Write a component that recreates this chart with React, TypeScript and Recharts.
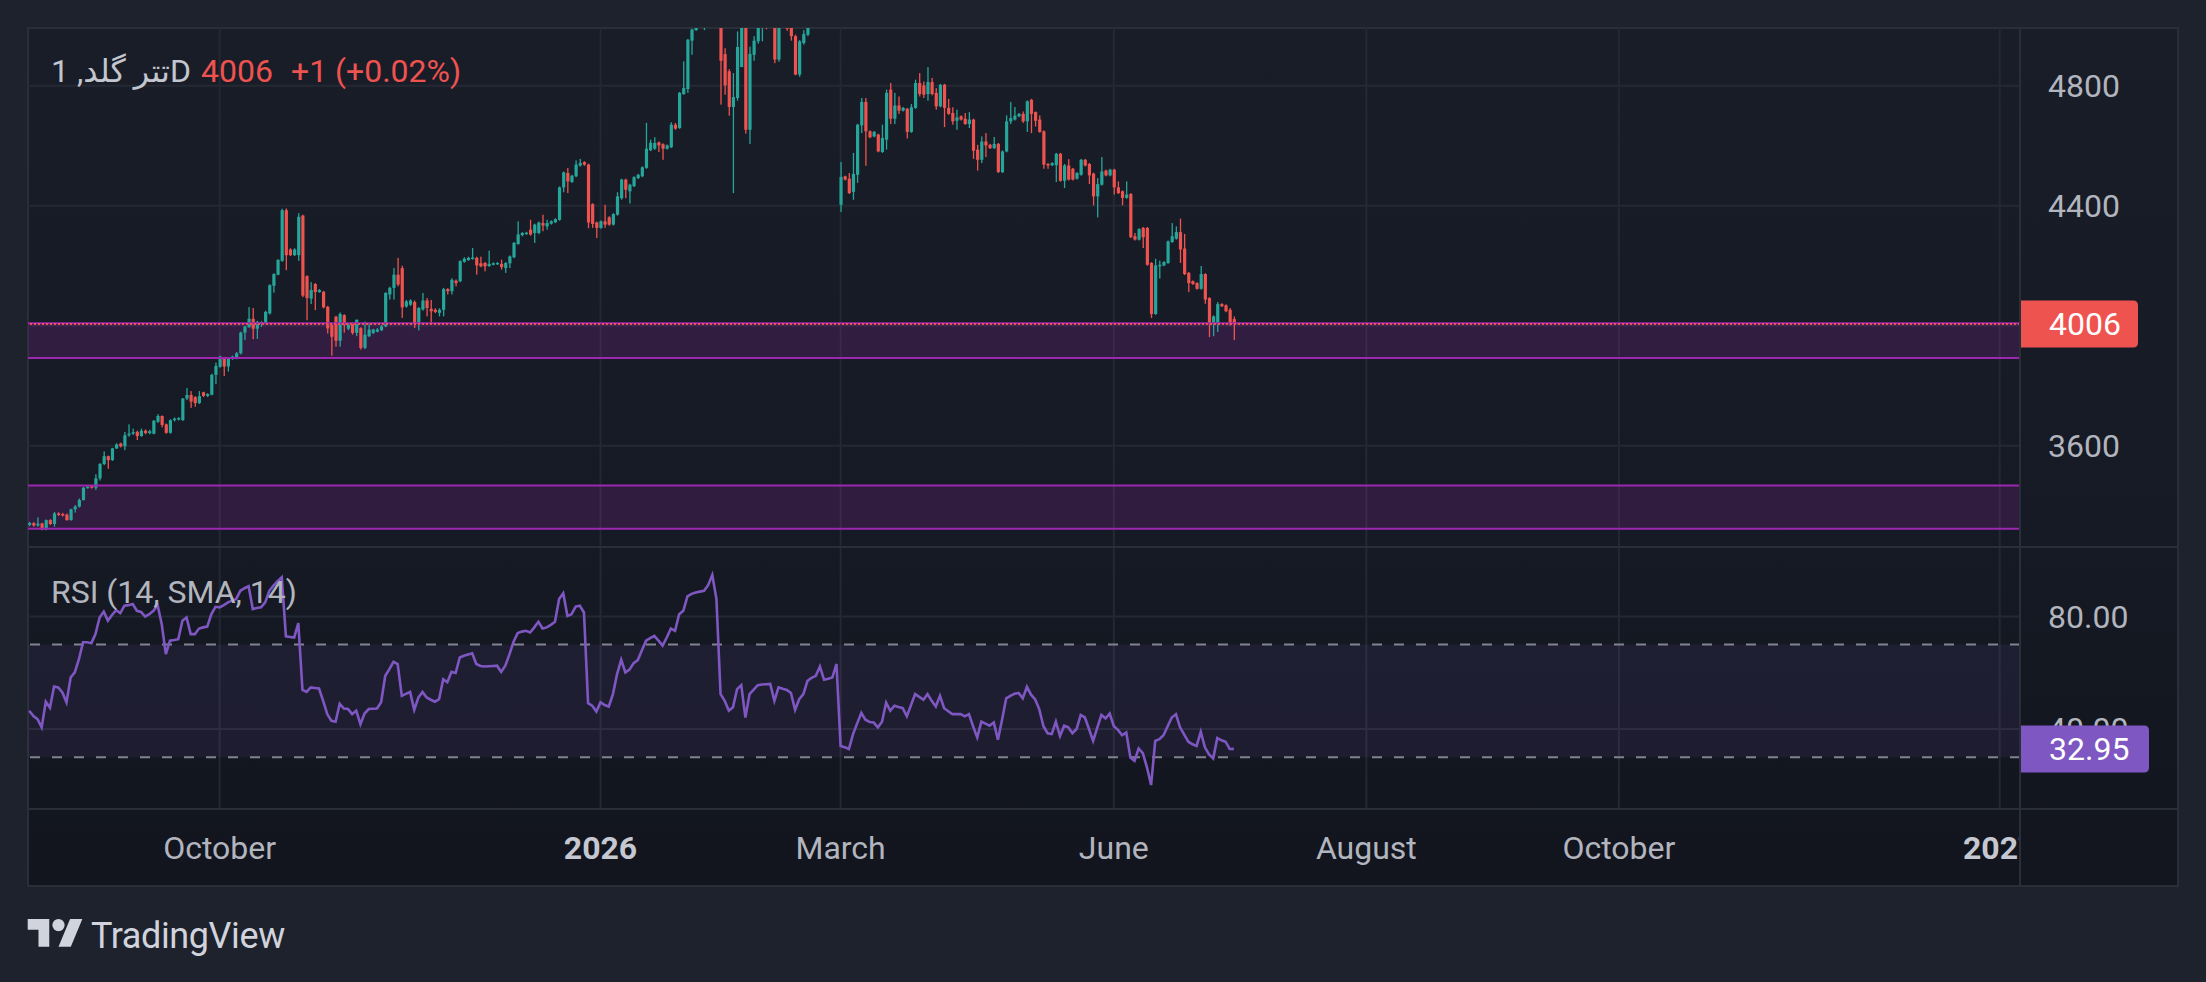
import React from 'react';
import {
  ComposedChart,
  Bar,
  Line,
  XAxis,
  YAxis,
  CartesianGrid,
  ReferenceArea,
  ReferenceLine,
} from 'recharts';

// daily candles, one entry per bar (Aug 2025 -> end of June 2026)
const opens = [
  3336, 3342, 3334, 3341, 3321, 3352, 3339, 3374, 3372, 3370,
  3352, 3388, 3397, 3419, 3460, 3465, 3460, 3491, 3539, 3565,
  3552, 3591, 3607, 3598, 3635, 3640, 3646, 3632, 3650, 3642,
  3640, 3680, 3699, 3671, 3643, 3685, 3688, 3685, 3757, 3769,
  3762, 3742, 3778, 3766, 3770, 3836, 3863, 3893, 3864, 3889,
  3891, 3908, 3977, 3995, 4023, 3990, 4007, 4010, 4041, 4133,
  4170, 4216, 4385, 4254, 4235, 4235, 4367, 4165, 4090, 4139,
  4112, 4113, 4063, 4002, 4030, 3950, 4035, 3990, 4009, 3976,
  3992, 3926, 3965, 3976, 3980, 3985, 3998, 4104, 4126, 4170,
  4192, 4064, 4070, 4079, 4009, 4054, 4084, 4056, 4053, 4043,
  4053, 4122, 4115, 4150, 4148, 4213, 4219, 4224, 4226, 4208,
  4209, 4199, 4204, 4206, 4206, 4192, 4208, 4228, 4272, 4302,
  4306, 4320, 4309, 4309, 4342, 4331, 4340, 4345, 4353, 4461,
  4509, 4479, 4498, 4534, 4545, 4537, 4405, 4344, 4326, 4348,
  4361, 4337, 4370, 4425, 4487, 4448, 4465, 4492, 4498, 4526,
  4585, 4590, 4611, 4605, 4590, 4595, 4670, 4659, 4772, 4789,
  4950, 4985, 5010, 5060, 5090, 5130, 5180, 5150, 4905, 4848,
  4729, 4759, 4862, 5030, 4653, 4903, 4948, 5020, 5080, 5040,
  5070, 4887, 5020, 5060, 5000, 4965, 4837, 4942, 4970, 5040,
  5080, 5120, 5160, 5110, 5130, 5140, 4403, 4498, 4490, 4446,
  4503, 4668, 4746, 4648, 4631, 4637, 4579, 4620, 4787, 4690,
  4734, 4717, 4723, 4646, 4726, 4809, 4801, 4772, 4812, 4776,
  4731, 4803, 4726, 4709, 4683, 4698, 4690, 4672, 4687, 4587,
  4553, 4614, 4603, 4592, 4606, 4512, 4581, 4681, 4687, 4698,
  4706, 4681, 4753, 4712, 4687, 4648, 4539, 4535, 4535, 4573,
  4483, 4534, 4523, 4490, 4503, 4553, 4539, 4507, 4431, 4470,
  4517, 4501, 4520, 4461, 4448, 4426, 4439, 4298, 4287, 4326,
  4326, 4209, 4039, 4198, 4201, 4209, 4279, 4290, 4312, 4257,
  4176, 4148, 4142, 4123, 4172, 4092, 4006, 4009, 4072, 4068,
  4053, 4022,
];

const highs = [
  3346, 3345, 3361, 3343, 3354, 3355, 3379, 3378, 3376, 3374,
  3390, 3402, 3424, 3462, 3466, 3468, 3505, 3542, 3581, 3567,
  3593, 3608, 3610, 3646, 3671, 3657, 3650, 3657, 3654, 3653,
  3686, 3705, 3701, 3674, 3688, 3694, 3695, 3759, 3792, 3782,
  3765, 3782, 3780, 3775, 3840, 3877, 3900, 3896, 3895, 3900,
  3912, 3980, 4000, 4062, 4059, 4016, 4015, 4050, 4138, 4175,
  4222, 4390, 4391, 4258, 4258, 4375, 4370, 4168, 4145, 4142,
  4122, 4116, 4066, 4005, 4033, 4044, 4038, 4008, 4012, 4020,
  3995, 4014, 4009, 3990, 3992, 4002, 4112, 4130, 4192, 4226,
  4200, 4086, 4088, 4084, 4062, 4109, 4092, 4086, 4058, 4058,
  4126, 4125, 4158, 4154, 4218, 4228, 4230, 4259, 4230, 4230,
  4212, 4250, 4211, 4212, 4220, 4212, 4234, 4279, 4348, 4312,
  4313, 4353, 4340, 4347, 4370, 4353, 4351, 4358, 4464, 4514,
  4526, 4503, 4551, 4556, 4548, 4540, 4408, 4347, 4351, 4403,
  4365, 4375, 4445, 4490, 4490, 4473, 4498, 4506, 4531, 4676,
  4620, 4628, 4614, 4608, 4604, 4678, 4676, 4779, 4881, 4956,
  4990, 5030, 5080, 5110, 5150, 5200, 5210, 5160, 4925, 4855,
  4842, 4981, 5050, 5060, 4930, 4965, 5040, 5080, 5100, 5090,
  5080, 5040, 5090, 5070, 5010, 4970, 4952, 4985, 5060, 5100,
  5140, 5190, 5170, 5150, 5160, 5210, 4546, 4500, 4509, 4576,
  4673, 4759, 4759, 4651, 4649, 4640, 4670, 4787, 4809, 4776,
  4764, 4729, 4726, 4739, 4820, 4842, 4814, 4862, 4826, 4792,
  4806, 4806, 4756, 4728, 4720, 4701, 4709, 4712, 4690, 4603,
  4631, 4642, 4606, 4629, 4609, 4584, 4701, 4746, 4729, 4709,
  4714, 4751, 4756, 4714, 4701, 4651, 4542, 4545, 4576, 4576,
  4539, 4555, 4526, 4512, 4556, 4556, 4542, 4510, 4492, 4562,
  4520, 4523, 4523, 4481, 4451, 4481, 4442, 4309, 4325, 4329,
  4329, 4212, 4223, 4217, 4215, 4284, 4342, 4331, 4357, 4306,
  4179, 4151, 4145, 4199, 4175, 4095, 4034, 4079, 4075, 4071,
  4059, 4031,
];

const lows = [
  3332, 3330, 3330, 3318, 3318, 3336, 3330, 3366, 3364, 3350,
  3350, 3377, 3394, 3417, 3457, 3457, 3452, 3484, 3535, 3523,
  3549, 3589, 3594, 3585, 3630, 3636, 3619, 3630, 3638, 3638,
  3638, 3676, 3661, 3640, 3640, 3681, 3684, 3683, 3752, 3726,
  3730, 3739, 3762, 3762, 3768, 3805, 3860, 3832, 3847, 3886,
  3888, 3904, 3952, 3993, 3955, 3956, 3996, 4005, 4037, 4110,
  4168, 4213, 4185, 4232, 4232, 4216, 4095, 4018, 4072, 4052,
  4110, 4058, 3974, 3900, 3930, 3930, 3977, 3985, 3970, 3965,
  3920, 3922, 3962, 3972, 3978, 3982, 3995, 4087, 4087, 4131,
  4026, 4060, 4066, 3992, 3984, 4050, 4031, 4009, 4042, 4031,
  4031, 4104, 4104, 4131, 4145, 4210, 4216, 4220, 4170, 4195,
  4181, 4196, 4201, 4203, 4187, 4176, 4192, 4225, 4270, 4298,
  4303, 4300, 4276, 4305, 4315, 4320, 4337, 4342, 4350, 4445,
  4442, 4476, 4495, 4530, 4533, 4325, 4326, 4292, 4323, 4326,
  4333, 4334, 4367, 4420, 4425, 4407, 4462, 4489, 4495, 4523,
  4582, 4586, 4579, 4553, 4587, 4592, 4653, 4656, 4770, 4776,
  4903, 4983, 5000, 4985, 5060, 5110, 5100, 4737, 4770, 4700,
  4442, 4750, 4862, 4640, 4606, 4883, 4940, 4948, 4988, 5010,
  4875, 4880, 5000, 4983, 4950, 4835, 4830, 4937, 4965, 5020,
  5060, 5100, 5090, 5095, 5110, 5120, 4379, 4484, 4439, 4420,
  4476, 4642, 4533, 4625, 4628, 4578, 4576, 4587, 4672, 4672,
  4706, 4714, 4624, 4643, 4723, 4764, 4759, 4750, 4768, 4720,
  4728, 4662, 4703, 4670, 4653, 4684, 4670, 4659, 4556, 4517,
  4542, 4562, 4589, 4589, 4509, 4509, 4578, 4672, 4684, 4695,
  4676, 4646, 4642, 4664, 4643, 4523, 4523, 4532, 4479, 4480,
  4459, 4484, 4484, 4487, 4500, 4531, 4472, 4401, 4361, 4467,
  4498, 4498, 4437, 4439, 4401, 4423, 4292, 4284, 4284, 4259,
  4200, 4026, 4036, 4157, 4198, 4206, 4276, 4287, 4209, 4169,
  4112, 4136, 4120, 4120, 4073, 3962, 3965, 3979, 4062, 4045,
  4000, 3952,
];

const closes = [
  3342, 3334, 3340, 3321, 3352, 3339, 3374, 3370, 3368, 3352,
  3388, 3397, 3419, 3460, 3463, 3460, 3491, 3539, 3565, 3552,
  3591, 3604, 3598, 3635, 3640, 3645, 3632, 3650, 3642, 3648,
  3683, 3699, 3669, 3643, 3685, 3690, 3692, 3757, 3769, 3747,
  3742, 3765, 3766, 3772, 3836, 3866, 3897, 3864, 3891, 3897,
  3908, 3977, 3997, 4023, 3990, 4013, 4012, 4046, 4135, 4172,
  4219, 4385, 4235, 4235, 4254, 4363, 4100, 4092, 4119, 4112,
  4119, 4061, 3991, 3963, 3950, 4039, 4002, 4003, 3976, 4020,
  3926, 3970, 3987, 3987, 3987, 3998, 4109, 4126, 4170, 4137,
  4061, 4081, 4084, 4006, 4059, 4084, 4059, 4048, 4046, 4053,
  4122, 4115, 4153, 4142, 4215, 4223, 4226, 4227, 4201, 4198,
  4198, 4206, 4208, 4209, 4195, 4209, 4231, 4276, 4304, 4309,
  4310, 4304, 4337, 4344, 4334, 4342, 4348, 4355, 4461, 4511,
  4481, 4500, 4537, 4542, 4537, 4344, 4339, 4326, 4348, 4337,
  4337, 4372, 4431, 4487, 4453, 4470, 4495, 4503, 4528, 4590,
  4610, 4609, 4601, 4590, 4601, 4670, 4657, 4776, 4792, 4953,
  4987, 5010, 5060, 5090, 5130, 5180, 5150, 4883, 4801, 4729,
  4762, 4929, 5010, 4653, 4906, 4950, 5020, 5060, 5040, 5070,
  4887, 5020, 5060, 4990, 4965, 4837, 4948, 4972, 5040, 5080,
  5120, 5160, 5110, 5130, 5140, 5190, 4496, 4487, 4442, 4506,
  4670, 4746, 4648, 4628, 4646, 4581, 4626, 4776, 4690, 4734,
  4717, 4726, 4646, 4728, 4809, 4772, 4770, 4812, 4772, 4731,
  4803, 4726, 4706, 4681, 4694, 4687, 4672, 4687, 4583, 4553,
  4614, 4601, 4592, 4606, 4512, 4581, 4681, 4692, 4700, 4706,
  4681, 4748, 4706, 4683, 4646, 4537, 4535, 4542, 4573, 4483,
  4534, 4487, 4487, 4509, 4553, 4534, 4501, 4431, 4472, 4514,
  4501, 4520, 4461, 4442, 4426, 4437, 4295, 4287, 4322, 4295,
  4203, 4039, 4201, 4203, 4212, 4281, 4298, 4312, 4254, 4172,
  4142, 4139, 4123, 4172, 4087, 4006, 4031, 4072, 4065, 4048,
  4005, 4006,
];

const rsiValues = [
  46.5, 44.6, 43.5, 40.6, 49.7, 47.6, 55.1, 54.8, 53, 49.5,
  58.3, 60.1, 64.8, 70.8, 70.8, 70.5, 73.7, 79.6, 81.7, 78.5,
  80.5, 82.2, 81.2, 83.8, 84, 84.4, 82, 81.6, 79.9, 80.8,
  82, 84, 77.3, 66.6, 71.4, 71.6, 71.9, 78.5, 79.6, 73.7,
  73.7, 75.7, 76.1, 76.4, 80.8, 83.4, 83.2, 84, 85, 85.6,
  86.2, 89.1, 90, 90.7, 82.6, 83, 83.2, 85, 89.1, 90.9,
  92.5, 93.9, 72.9, 72.7, 72.5, 77.6, 53.9, 53.2, 54.8, 54.6,
  54.4, 50, 45.3, 42.9, 42.6, 49, 47.3, 47.1, 45.3, 46.5,
  41.7, 45.5, 47.1, 47.2, 47.3, 49.5, 58.9, 61.3, 63.9, 63.1,
  51.8, 52.5, 53.2, 46.8, 51.2, 53.2, 51.2, 50.4, 49.7, 50.6,
  57.7, 56.6, 60.3, 59.9, 65.4, 66, 66.5, 66.9, 63.1, 62.4,
  62.2, 62.3, 62.4, 62.5, 60.3, 62.5, 66.5, 71, 74.1, 74.6,
  74.9, 74.3, 76.1, 78.1, 75.7, 76.1, 77, 78.1, 86.2, 88.2,
  80.2, 80.8, 83.5, 83.8, 81.4, 49.2, 48.3, 46.2, 49.5, 48.5,
  48, 52.4, 59.5, 64.6, 60.1, 61.1, 63.4, 64.5, 68, 71.4,
  72.3, 73.1, 71.4, 69.6, 72.5, 75.7, 74.9, 80.8, 82, 87.1,
  88, 88.5, 88.8, 89.1, 91.1, 94.7, 86.2, 52.4, 50, 46.5,
  47.7, 54.2, 55.6, 44.1, 52.4, 54, 55.6, 55.8, 55.9, 56,
  50, 54.8, 54.3, 53.9, 52.8, 46.8, 50.6, 52.4, 57.1, 58.2,
  58.9, 62.2, 57.5, 57.9, 58.3, 63.1, 34, 33.5, 32.9, 38.2,
  42, 45.7, 43.3, 42.5, 42.3, 40.6, 42.6, 49.4, 46.5, 48.3,
  47.8, 47.4, 44.5, 48.5, 52.4, 51.4, 50.4, 52.4, 50, 48,
  51.8, 47.4, 46.3, 45.3, 45.3, 45.3, 44.5, 45.3, 41, 37,
  42.6, 41.9, 41.2, 42.3, 36.2, 43.3, 50.9, 51.8, 52.5, 52.8,
  50.9, 55, 52.2, 50.5, 47, 41, 38.5, 38.2, 42.6, 37.5,
  41.2, 40.6, 38.5, 40, 45, 44.1, 40, 35.8, 40.5, 45,
  43.8, 45.5, 41, 39.7, 37.8, 38.8, 29.9, 28.7, 33.1, 31.4,
  26.4, 20.1, 35.8, 36.4, 37.8, 41, 44.1, 45.3, 40.6, 38,
  35.5, 34.6, 34, 39, 33.5, 31, 29.6, 36.8, 36, 35.5,
  32.9, 32.95,
];

// bar index of each time-axis label (future bars continue one per day)
const tickBars = [46, 138, 196, 262, 323, 384, 476];
const tickLabels = ['October', '2026', 'March', 'June', 'August', 'October', '2027'];

const priceTicks = [3600, 4400, 4800];
const priceGrid = [3600, 4000, 4400, 4800];
const rsiTicks = [40, 80];
const zones = [
  [3892, 4008],
  [3323, 3467],
];
const lastPrice = 4006;
const lastRsi = 32.95;

const X_DOMAIN: [number, number] = [-0.3, 480.9];
const PRICE_DOMAIN: [number, number] = [3262.3, 4992.3];
const RSI_DOMAIN: [number, number] = [11.6, 104.65];

const UP = '#26a69a';
const DOWN = '#ef5350';
const GRID = '#242833';
const BORDER = '#2a2e39';
const LABEL = '#b2b5be';
const ZONE = '#9c27b0';
const RSI_COLOR = '#7e57c2';
const FONT = "Roboto, 'DejaVu Sans', sans-serif";

const candles = opens.map((o, i) => ({
  i,
  o,
  h: highs[i],
  l: lows[i],
  c: closes[i],
  range: [lows[i], highs[i]],
}));

const rsiRows = rsiValues.map((v, i) => ({ i, rsi: v }));

const Candle = (props: any) => {
  const { x, y, width, height, payload } = props;
  if (!payload || !Number.isFinite(y) || !Number.isFinite(height)) return null;
  const { o, h, l, c } = payload;
  const color = c >= o ? UP : DOWN;
  const top = Math.min(y, y + height);
  const span = Math.abs(height);
  const cx = x + width / 2;
  const toY = (p: number) => (h === l ? top : top + ((h - p) / (h - l)) * span);
  const bodyTop = toY(Math.max(o, c));
  const bodyBottom = toY(Math.min(o, c));
  return (
    <g>
      <rect x={cx - 0.65} y={top} width={1.3} height={span} fill={color} />
      <rect
        x={cx - 1.6}
        y={bodyTop}
        width={3.2}
        height={Math.max(1.4, bodyBottom - bodyTop)}
        fill={color}
      />
    </g>
  );
};

// last-value tag on the price scale: left edge at x, centred on y
const Tag = ({ x, y, text, bg, w }: { x: number; y: number; text: string; bg: string; w: number }) => {
  const h = 47;
  const r = 5;
  const t = y - h / 2;
  const d = `M${x},${t} H${x + w - r} Q${x + w},${t} ${x + w},${t + r} V${t + h - r} Q${x + w},${t + h} ${x + w - r},${t + h} H${x} Z`;
  return (
    <g>
      <path d={d} fill={bg} />
      <text x={x + 29} y={y} dy="0.355em" fill="#ffffff" fontSize={32} fontFamily={FONT}>
        {text}
      </text>
    </g>
  );
};

const priceTagLabel = (props: any) => {
  const vb = props.viewBox;
  if (!vb) return null;
  return <Tag x={vb.x + vb.width} y={vb.y} text={String(lastPrice)} bg={DOWN} w={118} />;
};

// RSI scale ticks; the last value is drawn as a tag so that it sits above the 40.00 label
const RsiTick = (props: any) => {
  const { x, y, payload } = props;
  if (payload.value === lastRsi) {
    return <Tag x={x - 28} y={y} text={lastRsi.toFixed(2)} bg={RSI_COLOR} w={129} />;
  }
  return (
    <text x={x} y={y} dy="0.355em" fill={LABEL} fontSize={32} fontFamily={FONT}>
      {Number(payload.value).toFixed(2)}
    </text>
  );
};

const TimeTick = (props: any) => {
  const { x, y, payload } = props;
  const label = tickLabels[tickBars.indexOf(payload.value)];
  const isYear = /^\d+$/.test(label || '');
  return (
    <text
      x={x}
      y={y + 50.4}
      textAnchor="middle"
      fill={isYear ? '#c5c8d0' : LABEL}
      fontSize={32}
      fontWeight={isYear ? 700 : 400}
      fontFamily={FONT}
    >
      {label}
    </text>
  );
};

const noMargin = { top: 0, right: 0, bottom: 0, left: 0 };

const PricePane = () => (
  <ComposedChart width={2150} height={519} data={candles} margin={noMargin}>
    <CartesianGrid stroke={GRID} strokeWidth={2} verticalValues={tickBars} horizontalValues={priceGrid} />
    <XAxis dataKey="i" type="number" domain={X_DOMAIN} allowDataOverflow ticks={tickBars} hide />
    <YAxis
      orientation="right"
      width={158}
      domain={PRICE_DOMAIN}
      allowDataOverflow
      ticks={priceTicks}
      interval={0}
      axisLine={false}
      tickLine={false}
      tickSize={0}
      tickMargin={28}
      tick={{ fill: LABEL, fontSize: 32, fontFamily: FONT }}
    />
    {zones.map(([lo, hi]) => (
      <ReferenceArea key={`a${lo}`} y1={lo} y2={hi} fill={ZONE} fillOpacity={0.2} stroke="none" />
    ))}
    {zones.map(([lo]) => (
      <ReferenceLine key={`b${lo}`} y={lo} stroke={ZONE} strokeWidth={2} />
    ))}
    {zones.map(([, hi]) => (
      <ReferenceLine key={`t${hi}`} y={hi} stroke={ZONE} strokeWidth={2} />
    ))}
    <Bar dataKey="range" barSize={3} shape={<Candle />} isAnimationActive={false} />
    <ReferenceLine
      y={lastPrice}
      stroke={DOWN}
      strokeWidth={2}
      strokeDasharray="2 2"
      label={priceTagLabel}
    />
  </ComposedChart>
);

const RsiPane = () => (
  <ComposedChart width={2150} height={339} data={rsiRows} margin={noMargin}>
    <CartesianGrid stroke={GRID} strokeWidth={2} verticalValues={tickBars} horizontalValues={rsiTicks} />
    <XAxis
      dataKey="i"
      type="number"
      domain={X_DOMAIN}
      allowDataOverflow
      ticks={tickBars}
      interval={0}
      height={77}
      axisLine={false}
      tickLine={false}
      tickSize={0}
      tickMargin={0}
      tick={<TimeTick />}
    />
    <YAxis
      orientation="right"
      width={158}
      domain={RSI_DOMAIN}
      allowDataOverflow
      ticks={[...rsiTicks, lastRsi]}
      interval={0}
      axisLine={false}
      tickLine={false}
      tickSize={0}
      tickMargin={28}
      tick={<RsiTick />}
    />
    <ReferenceArea y1={30} y2={70} fill={RSI_COLOR} fillOpacity={0.1} stroke="none" />
    <ReferenceLine y={70} stroke="#80838d" strokeWidth={2} strokeDasharray="10 12" />
    <ReferenceLine y={30} stroke="#80838d" strokeWidth={2} strokeDasharray="10 12" />
    <Line
      type="linear"
      dataKey="rsi"
      stroke={RSI_COLOR}
      strokeWidth={2.6}
      dot={false}
      isAnimationActive={false}
    />
  </ComposedChart>
);

const abs = (left: number, top: number, width: number, height: number, extra = {}) => ({
  position: 'absolute' as const,
  left,
  top,
  width,
  height,
  ...extra,
});

export default function App() {
  return (
    <div style={{ ...abs(0, 0, 2206, 982), background: '#1e222d', fontFamily: FONT, overflow: 'hidden' }}>
      <style>{'body{margin:0;background:#1e222d}'}</style>
      <div
        style={abs(27, 27, 2152, 860, {
          boxSizing: 'border-box',
          border: `2px solid ${BORDER}`,
          background: 'linear-gradient(180deg, #191d28 0%, #161a24 55%, #12151e 100%)',
        })}
      />
      <div style={abs(28, 28, 2150, 519)}>
        <PricePane />
      </div>
      <div style={abs(28, 547, 2150, 339)}>
        <RsiPane />
      </div>
      {/* price scale corner of the time axis */}
      <div style={abs(2021, 810, 155, 74, { background: '#13161f' })} />
      {/* pane separators */}
      <div style={abs(28, 546, 2150, 2, { background: BORDER })} />
      <div style={abs(28, 808, 2150, 2, { background: BORDER })} />
      <div style={abs(2019, 28, 2, 858, { background: BORDER })} />
      <svg style={abs(0, 0, 2206, 982, { pointerEvents: 'none' })} width={2206} height={982}>
        <text x={51} y={81.7} fontSize={32} fill="#c3c6ce" fontFamily={FONT}>
          تتر گلد, 1D
        </text>
        <text x={201} y={81.7} fontSize={32} fill={DOWN} fontFamily={FONT}>
          4006
        </text>
        <text x={291} y={81.7} fontSize={32} fill={DOWN} fontFamily={FONT}>
          +1 (+0.02%)
        </text>
        <text x={51} y={603} fontSize={32} fill={LABEL} fontFamily={FONT}>
          RSI (14, SMA, 14)
        </text>
        <g transform="translate(27.7 912.8) scale(1.54)" fill="#d1d4dc">
          <path d="M14 22H7V11H0V4h14v18zM28 22h-8l7.5-18h8L28 22z" />
          <circle cx="20" cy="8" r="4" />
        </g>
        <text x={91} y={948} fontSize={36} fill="#d1d4dc" fontFamily={FONT} letterSpacing={-0.4}>
          TradingView
        </text>
      </svg>
    </div>
  );
}
